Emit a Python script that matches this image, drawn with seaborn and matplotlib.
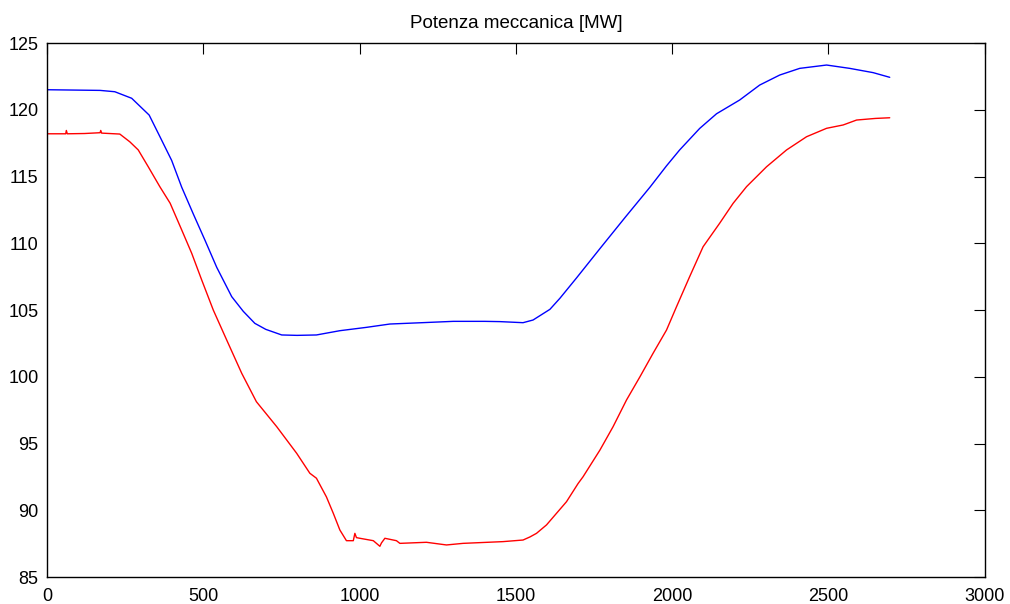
import numpy as np
import pandas as pd
import matplotlib
matplotlib.use('Agg')
import matplotlib.pyplot as plt
import seaborn as sns

# valori
t_blu = [0, 170, 217, 271, 327, 361, 399, 431, 468, 506, 543, 591, 628, 665,
         700, 751, 800, 862, 937, 1022, 1097, 1200, 1300, 1400, 1449, 1523,
         1555, 1609, 1641, 1694, 1769, 1850, 1929, 1982, 2024, 2088, 2142,
         2216, 2280, 2344, 2408, 2494, 2568, 2643, 2696]
p_blu = [121.5, 121.45, 121.35, 120.86, 119.6, 118.0, 116.2, 114.2, 112.2,
         110.2, 108.2, 106.0, 104.9, 104.0, 103.55, 103.13, 103.1, 103.13,
         103.45, 103.7, 103.95, 104.05, 104.15, 104.15, 104.13, 104.05,
         104.25, 105.05, 105.88, 107.4, 109.6, 111.95, 114.2, 115.8, 116.99,
         118.6, 119.7, 120.73, 121.85, 122.6, 123.1, 123.35, 123.1, 122.78,
         122.43]

t_rosso = [0, 60, 62, 65, 120, 170, 172, 175, 233, 265, 292, 324, 361, 394, 431,
           463, 495, 532, 575, 623, 670, 735, 799, 841, 862, 894, 916, 937, 958,
           980, 985, 990, 1001, 1044, 1065, 1070, 1081, 1118, 1129, 1214, 1278,
           1331, 1459, 1523, 1545, 1566, 1598, 1630, 1662, 1699, 1715, 1769,
           1811, 1854, 1897, 1939, 1982, 2014, 2056, 2099, 2152, 2195, 2238,
           2302, 2366, 2430, 2494, 2547, 2590, 2650, 2696]
p_rosso = [118.2, 118.2, 118.45, 118.2, 118.22, 118.28, 118.45, 118.25, 118.18,
           117.6, 116.99, 115.73, 114.24, 113.0, 111.0, 109.25, 107.25, 105.0,
           102.75, 100.26, 98.13, 96.26, 94.26, 92.77, 92.4, 91.0, 89.77,
           88.52, 87.72, 87.72, 88.27, 87.95, 87.9, 87.72, 87.3, 87.55, 87.9,
           87.72, 87.52, 87.6, 87.4, 87.52, 87.65, 87.77, 88.0, 88.27, 88.9,
           89.77, 90.64, 92.0, 92.51, 94.51, 96.26, 98.26, 100.0, 101.76,
           103.5, 105.25, 107.5, 109.74, 111.5, 112.99, 114.24, 115.73, 116.99,
           117.98, 118.61, 118.86, 119.23, 119.35, 119.4]

x_ticks = [0, 500, 1000, 1500, 2000, 2500, 3000]
y_ticks = [85, 90, 95, 100, 105, 110, 115, 120, 125]

sns.set_style('white')
plt.rcParams['font.family'] = ['Liberation Sans', 'DejaVu Sans']
plt.rcParams['text.color'] = 'black'

fig = plt.figure(figsize=(10.1, 6.04), dpi=100)
ax = fig.add_axes([0.0465, 0.0447, 0.9285, 0.8841])

sns.lineplot(x=t_blu, y=p_blu, color='#0000ff', linewidth=1.0, ax=ax,
             sort=False, estimator=None)
sns.lineplot(x=t_rosso, y=p_rosso, color='#ff0000', linewidth=1.0, ax=ax,
             sort=False, estimator=None)

ax.set_xlim(0, 3000)
ax.set_ylim(85, 125)
ax.set_xticks(x_ticks)
ax.set_yticks(y_ticks)
ax.tick_params(direction='in', length=8, width=0.8, top=True, right=True,
               labelsize=13, colors='black')
ax.tick_params(axis='y', pad=6)
ax.tick_params(axis='x', pad=8)
for s in ax.spines.values():
    s.set_color('black')
    s.set_linewidth(1.0)
    s.set_visible(True)
ax.set_title('Potenza meccanica [MW]', fontsize=13.5, pad=11, color='black')

plt.savefig('out.png', dpi=100)
